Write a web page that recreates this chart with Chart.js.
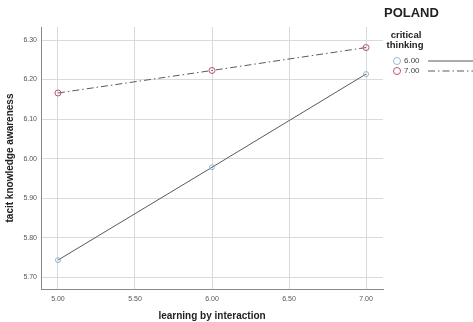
<!DOCTYPE html>
<html>
<head>
<meta charset="utf-8">
<script src="https://cdn.jsdelivr.net/npm/chart.js@4.4.1/dist/chart.umd.min.js"></script>
<style>
  html, body { margin: 0; padding: 0; background: #fff; }
  #wrap { width: 473px; height: 322px; position: relative; }
</style>
</head>
<body>
<div id="wrap"><canvas id="plot" width="473" height="322"></canvas></div>
<script>
// values
var xValues = [5.00, 6.00, 7.00];
var groups = ['6.00', '7.00'];
var series600 = [5.743, 5.978, 6.214];
var series700 = [6.166, 6.223, 6.281];
var xTicks = [5.00, 5.50, 6.00, 6.50, 7.00];
var yTicks = [5.70, 5.80, 5.90, 6.00, 6.10, 6.20, 6.30];

var lineColor = '#5a5a5a';
var pointColors = ['#8fb8d8', '#c0506e'];
var dashes = [[], [7, 3, 1.5, 3]];

function toPoints(vals) {
  return vals.map(function(v, i) { return {x: xValues[i], y: v}; });
}

// legend + title drawn at the right side
var sidePlugin = {
  id: 'side',
  afterDraw: function(chart) {
    var ctx = chart.ctx;
    ctx.save();
    ctx.fillStyle = '#222';
    ctx.textBaseline = 'middle';
    ctx.textAlign = 'left';
    ctx.font = 'bold 13px "Liberation Sans", Arial, sans-serif';
    ctx.fillText('POLAND', 384, 13);
    ctx.textAlign = 'center';
    ctx.font = 'bold 9.5px "Liberation Sans", Arial, sans-serif';
    ctx.fillText('critical', 406, 35);
    ctx.fillText('thinking', 405, 45);
    groups.forEach(function(g, i) {
      var y = 61 + i * 10;
      ctx.beginPath();
      ctx.arc(397, y, 3.5, 0, Math.PI * 2);
      ctx.strokeStyle = pointColors[i];
      ctx.lineWidth = 1;
      ctx.setLineDash([]);
      ctx.stroke();
      ctx.fillStyle = '#444';
      ctx.textAlign = 'left';
      ctx.font = '8px "Liberation Sans", Arial, sans-serif';
      ctx.fillText(g, 404, y);
      ctx.beginPath();
      ctx.setLineDash(dashes[i]);
      ctx.strokeStyle = lineColor;
      ctx.moveTo(428, y);
      ctx.lineTo(473, y);
      ctx.stroke();
    });
    ctx.restore();
  }
};

var chart = new Chart('plot', {
  type: 'line',
  data: {
    datasets: [
      {
        label: groups[0],
        data: toPoints(series600),
        borderColor: lineColor,
        borderWidth: 1,
        borderDash: dashes[0],
        pointStyle: 'circle',
        pointRadius: 2.5,
        pointBorderColor: pointColors[0],
        pointBackgroundColor: 'rgba(255,255,255,0)',
        pointBorderWidth: 1,
        fill: false,
        tension: 0
      },
      {
        label: groups[1],
        data: toPoints(series700),
        borderColor: lineColor,
        borderWidth: 1,
        borderDash: dashes[1],
        pointStyle: 'circle',
        pointRadius: 3,
        pointBorderColor: pointColors[1],
        pointBackgroundColor: 'rgba(255,255,255,0)',
        pointBorderWidth: 1,
        fill: false,
        tension: 0
      }
    ]
  },
  options: {
    responsive: false,
    animation: false,
    layout: { padding: { left: 4, right: 90, top: 27, bottom: 0 } },
    plugins: { legend: { display: false }, tooltip: { enabled: false } },
    scales: {
      x: {
        type: 'linear',
        min: 4.89,
        max: 7.11,
        afterBuildTicks: function(axis) {
          axis.ticks = xTicks.map(function(v) { return {value: v}; });
        },
        afterFit: function(axis) { axis.height = 33; },
        grid: { color: '#dadada', drawTicks: false },
        border: { color: '#8a8a8a' },
        ticks: {
          padding: 6,
          color: '#555',
          font: { size: 7, family: '"Liberation Sans", Arial, sans-serif' },
          callback: function(v) { return Number(v).toFixed(2); }
        },
        title: {
          display: true,
          text: 'learning by interaction',
          color: '#222',
          padding: { top: 6, bottom: 0 },
          font: { size: 10, weight: 'bold', family: '"Liberation Sans", Arial, sans-serif' }
        }
      },
      y: {
        min: 5.67,
        max: 6.333,
        afterBuildTicks: function(axis) {
          axis.ticks = yTicks.map(function(v) { return {value: v}; });
        },
        afterFit: function(axis) { axis.width = 37; },
        grid: { color: '#dadada', drawTicks: false },
        border: { color: '#8a8a8a' },
        ticks: {
          padding: 4,
          color: '#555',
          font: { size: 7, family: '"Liberation Sans", Arial, sans-serif' },
          callback: function(v) { return Number(v).toFixed(2); }
        },
        title: {
          display: true,
          text: 'tacit knowledge awareness',
          color: '#222',
          padding: { top: 0, bottom: 6 },
          font: { size: 10, weight: 'bold', family: '"Liberation Sans", Arial, sans-serif' }
        }
      }
    }
  },
  plugins: [sidePlugin]
});
</script>
</body>
</html>
